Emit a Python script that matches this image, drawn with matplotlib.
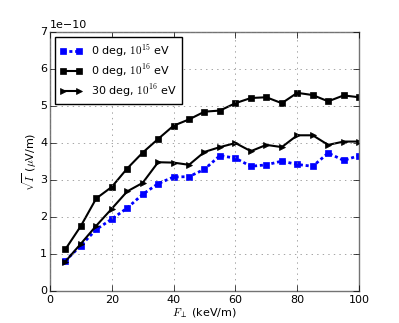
import numpy as np
import matplotlib
matplotlib.use("Agg")
import matplotlib.pyplot as plt

# data (values in units of 1e-10)
f_perp = [5, 10, 15, 20, 25, 30, 35, 40, 45, 50,
          55, 60, 65, 70, 75, 80, 85, 90, 95, 100]
deg0_e15 = [0.81, 1.22, 1.66, 1.94, 2.24, 2.61, 2.90, 3.08, 3.09, 3.29,
            3.66, 3.59, 3.37, 3.41, 3.51, 3.42, 3.37, 3.73, 3.53, 3.66]
deg0_e16 = [1.12, 1.75, 2.50, 2.81, 3.31, 3.74, 4.11, 4.47, 4.64, 4.85,
            4.88, 5.08, 5.22, 5.24, 5.08, 5.36, 5.30, 5.13, 5.29, 5.24]
deg30_e16 = [0.79, 1.27, 1.76, 2.22, 2.69, 2.92, 3.48, 3.47, 3.41, 3.76,
             3.89, 4.00, 3.78, 3.95, 3.89, 4.21, 4.21, 3.95, 4.04, 4.04]
labels = ['0 deg, $10^{15}$ eV', '0 deg, $10^{16}$ eV', '30 deg, $10^{16}$ eV']

plt.style.use('classic')
plt.rcParams['font.size'] = 8
plt.rcParams['mathtext.fontset'] = 'cm'
plt.rcParams['xtick.major.pad'] = 3
plt.rcParams['ytick.major.pad'] = 2

scale = 1e-10
fig = plt.figure(figsize=(3.99, 3.23), dpi=100, facecolor='white')
ax = fig.add_axes([0.125, 0.1, 0.775, 0.8])

ax.plot(f_perp, np.array(deg0_e15) * scale, 's--', color='blue', mec='blue',
        lw=2, ms=4.5, dashes=(2.2, 2), label=labels[0])
ax.plot(f_perp, np.array(deg0_e16) * scale, 's-', color='black',
        lw=1.5, ms=4.5, label=labels[1])
ax.plot(f_perp, np.array(deg30_e16) * scale, '>-', color='black',
        lw=1.5, ms=4.5, label=labels[2])

ax.set_xlim(0, 100)
ax.set_ylim(0, 7e-10)
ax.grid(True, color='0.5')
ax.set_xlabel(r'$F_\perp$ (keV/m)', labelpad=1)
ax.set_ylabel(r'$\sqrt{I}$ ($\mu$V/m)', labelpad=1)
for s in ax.spines.values():
    s.set_color('0.45')

ax.legend(loc='upper left', numpoints=2, fontsize=8, fancybox=False,
          handlelength=2.0, borderpad=0.45, labelspacing=0.3,
          borderaxespad=0.45)

fig.savefig('out.png', dpi=100, facecolor='white')
